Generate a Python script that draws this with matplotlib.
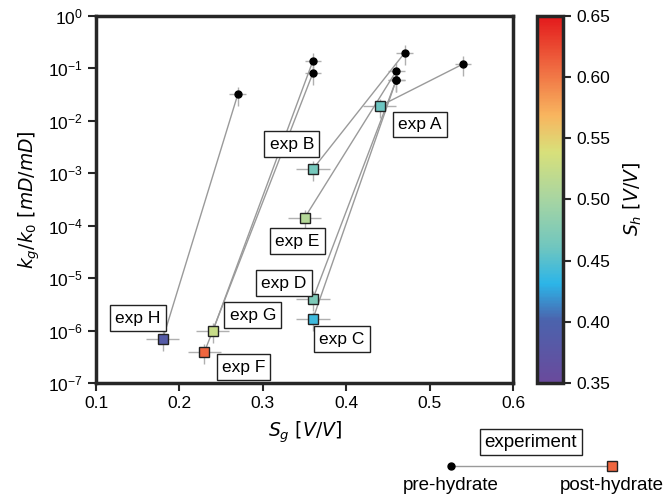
import numpy as np
import matplotlib
matplotlib.use("Agg")
import matplotlib.pyplot as plt
from matplotlib.colors import LinearSegmentedColormap, Normalize
from matplotlib.cm import ScalarMappable
from matplotlib.lines import Line2D

plt.rcParams['font.family'] = ['Liberation Sans', 'DejaVu Sans']
plt.rcParams['mathtext.fontset'] = 'dejavusans'

# ---- data ----
labels = ['exp A', 'exp B', 'exp C', 'exp D', 'exp E', 'exp F', 'exp G', 'exp H']
pre_sg = [0.54, 0.47, 0.46, 0.46, 0.46, 0.36, 0.36, 0.27]
pre_k = [0.121, 0.197, 0.060, 0.060, 0.089, 0.081, 0.138, 0.032]
post_sg = [0.44, 0.36, 0.36, 0.36, 0.35, 0.23, 0.24, 0.18]
post_k = [1.9e-2, 1.2e-3, 1.65e-6, 4.0e-6, 1.4e-4, 3.9e-7, 9.8e-7, 6.9e-7]
sh = [0.46, 0.465, 0.44, 0.47, 0.51, 0.61, 0.525, 0.385]
label_offsets = [(40, -18), (-21, 25), (29, -20), (-29, 16), (-7, -23), (39, -15), (40, 16), (-25, 21)]
pre_sg_err = 0.01
post_sg_err = 0.02
k_rel_err = 0.4

cmap = LinearSegmentedColormap.from_list('sh', [
    (0.0, '#6a4a9c'), (0.17, '#4b63ad'), (0.27, '#2cb5e8'), (0.37, '#70c6bf'),
    (0.50, '#a7d5a2'), (0.63, '#d8e07a'), (0.73, '#f8b55f'), (0.85, '#f07043'),
    (1.0, '#e3191c')])
norm = Normalize(0.35, 0.65)

fig = plt.figure(figsize=(6.65, 4.98), dpi=100)
ax = fig.add_axes([0.1444, 0.2309, 0.6270, 0.7370])
cax = fig.add_axes([0.8075, 0.2309, 0.0390, 0.7370])

spine_c = '#262626'
for i in range(len(labels)):
    ax.plot([pre_sg[i], post_sg[i]], [pre_k[i], post_k[i]], color='#9a9a9a', lw=1, zorder=2)

ax.errorbar(pre_sg, pre_k, xerr=pre_sg_err, yerr=np.array(pre_k) * k_rel_err,
            fmt='none', ecolor='#b0b0b0', elinewidth=1, zorder=1)
ax.errorbar(post_sg, post_k, xerr=post_sg_err, yerr=np.array(post_k) * k_rel_err,
            fmt='none', ecolor='#b0b0b0', elinewidth=1, zorder=1)
ax.plot(pre_sg, pre_k, 'o', color='black', ms=5, zorder=4)
for i in range(len(labels)):
    ax.plot(post_sg[i], post_k[i], 's', ms=7.5, mfc=cmap(norm(sh[i])), mec='#222222', mew=1, zorder=4)
    ax.annotate(labels[i], (post_sg[i], post_k[i]), xytext=label_offsets[i],
                textcoords='offset pixels', ha='center', va='center', fontsize=12.5,
                bbox=dict(boxstyle='square,pad=0.3', fc='white', ec='#222222', lw=1), zorder=5)

ax.set_yscale('log')
ax.set_xlim(0.1, 0.6)
ax.set_ylim(1e-7, 1)
ax.set_xticks([0.1, 0.2, 0.3, 0.4, 0.5, 0.6])
ax.set_xticklabels(['0.1', '0.2', '0.3', '0.4', '0.5', '0.6'])
ax.set_yticks([10.0 ** e for e in range(-7, 1)])
ax.yaxis.set_minor_locator(matplotlib.ticker.NullLocator())
ax.tick_params(axis='both', which='major', labelsize=12.5, direction='out', length=6,
               width=1.5, color=spine_c, top=False, right=False)
for s in ax.spines.values():
    s.set_linewidth(2.5)
    s.set_color(spine_c)
ax.set_xlabel(r'$S_g\ [V/V]$', fontsize=13.5, labelpad=6)
ax.set_ylabel(r'$k_g/k_0\ [mD/mD]$', fontsize=13.5, labelpad=4)

sm = ScalarMappable(norm=norm, cmap=cmap)
cb = fig.colorbar(sm, cax=cax)
cb.set_ticks([0.35, 0.40, 0.45, 0.50, 0.55, 0.60, 0.65])
cb.set_ticklabels(['0.35', '0.40', '0.45', '0.50', '0.55', '0.60', '0.65'])
cb.ax.tick_params(labelsize=12.5, direction='out', length=6, width=1.5, color=spine_c)
cb.outline.set_linewidth(2.5)
cb.outline.set_edgecolor(spine_c)
cb.set_label(r'$S_h\ [V/V]$', fontsize=13.5, labelpad=8)

# custom legend
fig.text(0.798, 0.112, 'experiment', ha='center', va='center', fontsize=13.5,
         bbox=dict(boxstyle='square,pad=0.25', fc='white', ec='#222222', lw=1))
fig.add_artist(Line2D([0.678, 0.920], [0.064, 0.064], transform=fig.transFigure, color='#9a9a9a', lw=1))
fig.add_artist(Line2D([0.678], [0.064], transform=fig.transFigure, marker='o', color='black', ms=5))
fig.add_artist(Line2D([0.920], [0.064], transform=fig.transFigure, marker='s', ms=7,
                      mfc=cmap(norm(0.61)), mec='#222222', mew=1))
fig.text(0.678, 0.026, 'pre-hydrate', ha='center', va='center', fontsize=13.5)
fig.text(0.920, 0.026, 'post-hydrate', ha='center', va='center', fontsize=13.5)

fig.savefig('out.png', dpi=100)
